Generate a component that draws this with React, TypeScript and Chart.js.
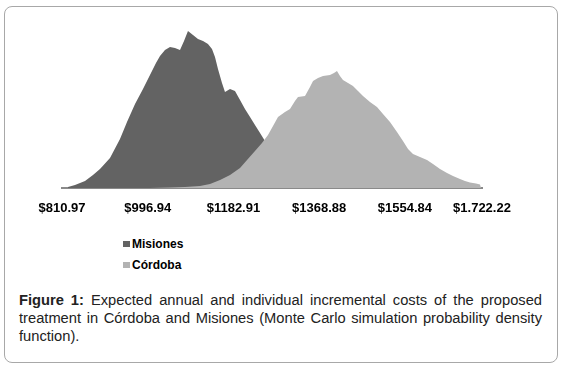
import React, { useEffect, useRef } from "react";
import { Chart, registerables } from "chart.js";

Chart.register(...registerables);

const seriesNames = ["Misiones", "Córdoba"];
const seriesColors = ["#636363", "#b3b3b3"];

const tickValues = [810.97, 996.94, 1182.91, 1368.88, 1554.84, 1722.22];
const tickLabels = ["$810.97", "$996.94", "$1182.91", "$1368.88", "$1554.84", "$1.722.22"];

const misionesX = [824.0, 839.2, 860.9, 878.2, 893.4, 915.1, 936.8, 952.0, 969.4, 986.7, 1001.9, 1014.9, 1023.6, 1034.4, 1045.3, 1056.1, 1067.0, 1075.7, 1084.3, 1095.2, 1106.0, 1116.9, 1127.7, 1136.4, 1142.9, 1149.4, 1158.1, 1164.6, 1175.5, 1186.3, 1197.2, 1208.0, 1218.9, 1229.7, 1240.6, 1251.4, 1262.2, 1284.0, 1305.6, 1327.3, 1349.0, 1370.7, 1414.1];
const misionesY = [1, 3, 7, 13, 19, 30, 49, 66, 84, 99, 113, 125, 132, 138, 141, 140, 138, 147, 157, 153, 149, 147, 144, 139, 131, 119, 105, 96, 99, 97, 88, 79, 71, 63, 55, 47, 39, 25, 14, 7, 3, 1, 0];

const cordobaX = [1001.9, 1045.3, 1077.8, 1110.4, 1132.1, 1153.8, 1175.5, 1197.2, 1212.4, 1229.7, 1244.9, 1257.9, 1268.8, 1279.6, 1294.8, 1305.6, 1316.5, 1323.0, 1338.2, 1349.0, 1355.6, 1366.4, 1377.3, 1392.4, 1401.1, 1407.6, 1414.1, 1420.6, 1431.5, 1442.3, 1453.2, 1464.0, 1479.2, 1494.4, 1507.4, 1522.6, 1537.8, 1550.8, 1561.7, 1572.5, 1587.7, 1602.9, 1615.9, 1631.1, 1646.3, 1659.3, 1674.5, 1685.3, 1696.2, 1709.2, 1717.9, 1720.0];
const cordobaY = [0, 0.5, 1, 2, 4, 8, 13, 20, 28, 37, 45, 53, 62, 71, 76, 79, 87, 91, 92, 101, 107, 110, 112, 113, 115, 117, 112, 108, 105, 102, 97, 92, 86, 81, 74, 66, 56, 47, 39, 34, 31, 28, 24, 19, 15, 12, 9, 7, 5.5, 4.5, 3.5, 0];

const FONT = "'Liberation Sans', Arial, Helvetica, sans-serif";

export default function App() {
  const canvasRef = useRef<HTMLCanvasElement | null>(null);

  useEffect(() => {
    if (!canvasRef.current) return;
    const toPoints = (xs: number[], ys: number[]) => xs.map((x, i) => ({ x, y: ys[i] }));
    const chart = new Chart(canvasRef.current, {
      type: "line",
      data: {
        datasets: [
          {
            label: seriesNames[0],
            data: toPoints(misionesX, misionesY),
            backgroundColor: seriesColors[0],
            borderColor: seriesColors[0],
            borderWidth: 0,
            pointRadius: 0,
            fill: "origin",
            tension: 0,
            order: 1,
          },
          {
            label: seriesNames[1],
            data: toPoints(cordobaX, cordobaY),
            backgroundColor: seriesColors[1],
            borderColor: seriesColors[1],
            borderWidth: 0,
            pointRadius: 0,
            fill: "origin",
            tension: 0,
            order: 0,
          },
        ],
      },
      options: {
        animation: false,
        responsive: false,
        devicePixelRatio: 1,
        layout: { padding: { left: 62, right: 82, top: 28, bottom: 0 } },
        plugins: { legend: { display: false }, tooltip: { enabled: false } },
        scales: {
          x: {
            type: "linear",
            min: tickValues[0],
            max: tickValues[tickValues.length - 1],
            grid: { display: false, drawTicks: false },
            border: { display: true, color: "#8a8a8a", width: 2 },
            afterBuildTicks: (scale: any) => {
              scale.ticks = tickValues.map((v) => ({ value: v }));
            },
            afterFit: (scale: any) => {
              scale.height = 40;
            },
            ticks: {
              autoSkip: false,
              maxRotation: 0,
              padding: 13,
              color: "#000",
              font: { family: FONT, size: 13, weight: "bold" },
              callback: (_v: any, i: number) => tickLabels[i],
            },
          },
          y: { display: false, min: 0, max: 160 },
        },
      },
    });
    return () => chart.destroy();
  }, []);

  const legendItem = (i: number, top: number) => (
    <div key={i} style={{ position: "absolute", left: 123, top, height: 14, display: "flex", alignItems: "center" }}>
      <div style={{ width: 7, height: 6, background: seriesColors[i], marginRight: 2 }} />
      <span style={{ font: `bold 12px ${FONT}`, color: "#000", lineHeight: "14px" }}>{seriesNames[i]}</span>
    </div>
  );

  const lineStyle: React.CSSProperties = {
    height: 18,
    lineHeight: "18px",
    whiteSpace: "nowrap",
  };

  return (
    <div style={{ position: "absolute", left: 0, top: 0, width: 564, height: 367, background: "#fff", overflow: "hidden" }}>
      <div
        style={{
          position: "absolute",
          left: 4,
          top: 6,
          width: 552,
          height: 355,
          border: "1px solid #a8a8a8",
          borderRadius: 8,
        }}
      />
      <canvas ref={canvasRef} width={564} height={228} style={{ position: "absolute", left: 0, top: 0 }} />
      {legendItem(0, 237)}
      {legendItem(1, 258)}
      <div style={{ position: "absolute", left: 19, top: 291, width: 523, font: `14.7px ${FONT}`, color: "#222" }}>
        <div style={{ ...lineStyle, textAlign: "justify", textAlignLast: "justify" }}>
          <b>Figure 1:</b> Expected annual and individual incremental costs of the proposed
        </div>
        <div style={{ ...lineStyle, textAlign: "justify", textAlignLast: "justify" }}>
          treatment in Córdoba and Misiones (Monte Carlo simulation probability density
        </div>
        <div style={lineStyle}>function).</div>
      </div>
    </div>
  );
}
